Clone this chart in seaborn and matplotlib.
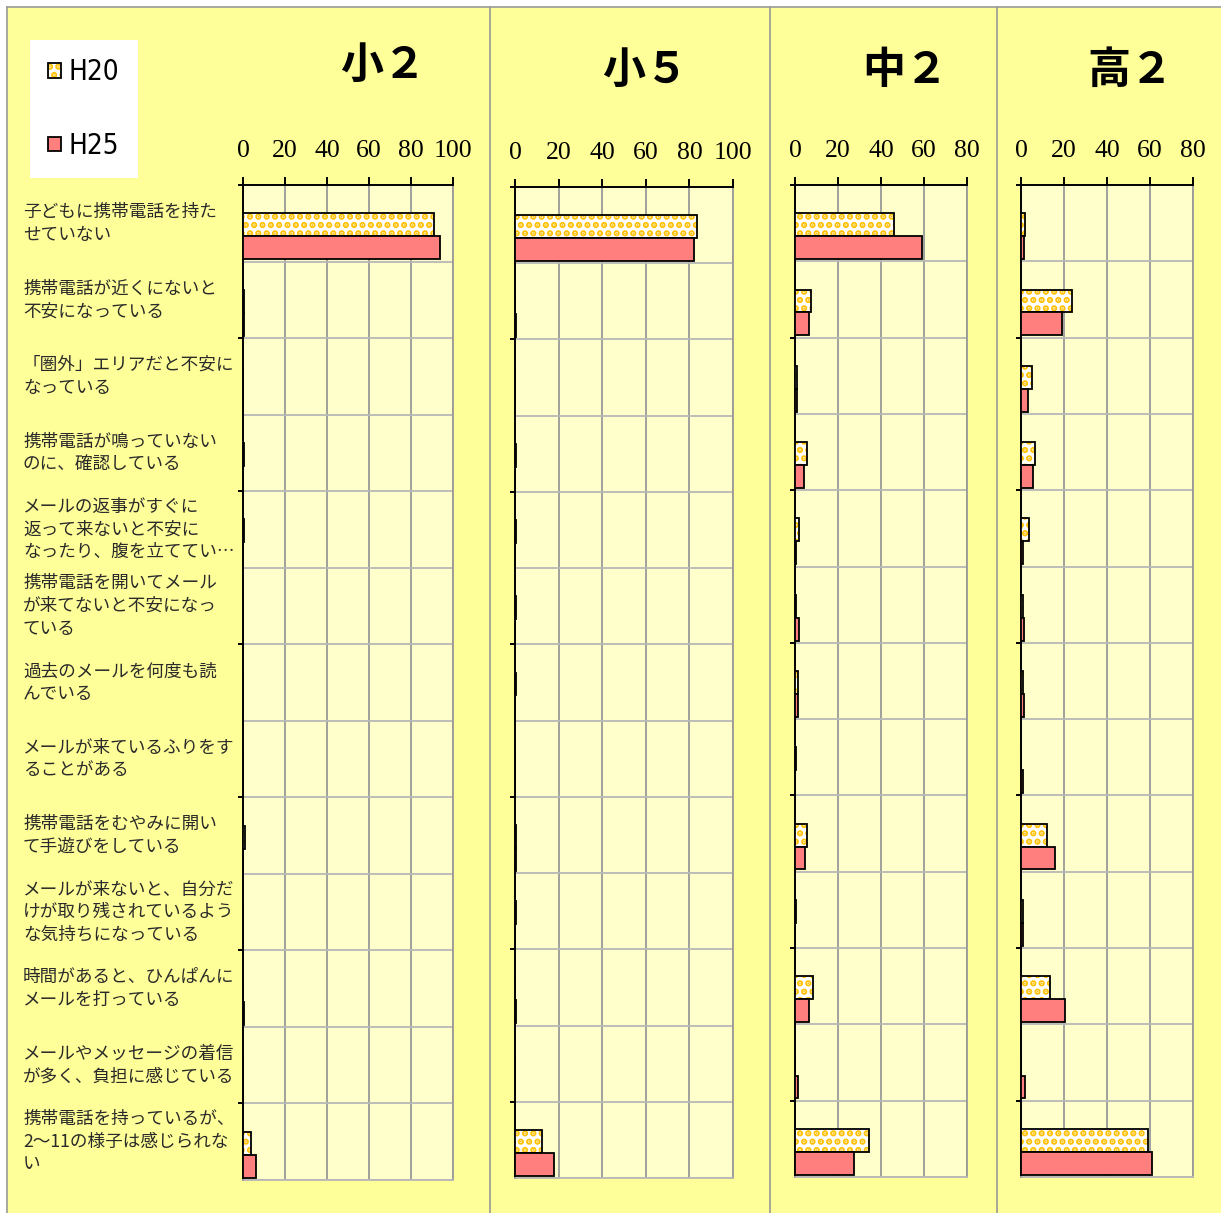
import numpy as np
import pandas as pd
import seaborn as sns
import matplotlib.pyplot as plt
import matplotlib.transforms as mtransforms
from matplotlib.colors import to_rgba
from matplotlib.lines import Line2D
from matplotlib.patches import Patch, Rectangle

# Data
items = [
    "子どもに携帯電話を持た\nせていない",
    "携帯電話が近くにないと\n不安になっている",
    "「圏外」エリアだと不安に\nなっている",
    "携帯電話が鳴っていない\nのに、確認している",
    "メールの返事がすぐに\n返って来ないと不安に\nなったり、腹を立ててい…",
    "携帯電話を開いてメール\nが来てないと不安になっ\nている",
    "過去のメールを何度も読\nんでいる",
    "メールが来ているふりをす\nることがある",
    "携帯電話をむやみに開い\nて手遊びをしている",
    "メールが来ないと、自分だ\nけが取り残されているよう\nな気持ちになっている",
    "時間があると、ひんぱんに\nメールを打っている",
    "メールやメッセージの着信\nが多く、負担に感じている",
    "携帯電話を持っているが、\n2～11の様子は感じられな\nい",
]
years = ["H20", "H25"]
titles = ["小２", "小５", "中２", "高２"]
x_max = [100, 100, 80, 80]

sho2_h20 = [90.9, 0.3, 0, 0.3, 0.3, 0, 0, 0, 1.0, 0, 0, 0, 3.9]
sho2_h25 = [93.8, 0.3, 0, 0, 0, 0, 0, 0, 0, 0, 0.5, 0, 6.3]
sho5_h20 = [83.7, 0, 0, 0.3, 0.3, 0.3, 0.3, 0, 0.5, 0.3, 0, 0, 12.4]
sho5_h25 = [82.0, 0.3, 0, 0, 0, 0, 0, 0, 0.5, 0, 0.6, 0, 17.9]
chu2_h20 = [46.0, 7.3, 1.0, 5.6, 1.7, 0.6, 1.3, 0.3, 5.6, 0.3, 8.6, 0, 34.2]
chu2_h25 = [58.9, 6.5, 1.0, 4.3, 0.6, 1.7, 1.5, 0, 4.7, 0.2, 6.6, 1.5, 27.4]
ko2_h20 = [1.7, 23.6, 5.0, 6.7, 3.9, 1.1, 0.9, 0, 12.1, 0.8, 13.5, 0, 59.0]
ko2_h25 = [1.5, 18.9, 3.2, 5.6, 0.9, 1.3, 1.5, 0.8, 15.6, 0.8, 20.4, 1.9, 61.0]

series = [
    (sho2_h20, sho2_h25),
    (sho5_h20, sho5_h25),
    (chu2_h20, chu2_h25),
    (ko2_h20, ko2_h25),
]

# Layout (pixels of the 1221x1213 picture)
W, H, DPI = 1221, 1213, 100
boxes = [(243, 453, 185, 1180), (515, 733, 187, 1178),
         (795, 967, 185, 1177), (1021, 1193, 185, 1177)]
title_pos = [(383, 65), (645, 70), (905, 70), (1130, 70)]
SHIFT = 0.17  # bars sit low in each category band

OUTER = "#FFFF99"
INNER = "#FFFFCC"
PINK = "#FF7F7F"
DOT = "#FFC000"
GRID_V = "#9A9A9A"
GRID_H = "#B8B8B8"

plt.rcParams["font.family"] = ["Noto Sans CJK JP", "DejaVu Sans"]
plt.rcParams["hatch.linewidth"] = 3.2


def fx(px):
    return px / W


def fy(py):
    return 1 - py / H


def orange_dots(p):
    p.set_hatch("..")
    if hasattr(p, "set_hatchcolor"):
        p.set_hatchcolor(DOT)
    else:
        p._hatch_color = to_rgba(DOT)


fig = plt.figure(figsize=(W / DPI, H / DPI), dpi=DPI, facecolor="white")

# yellow sheet and panel borders
fig.add_artist(Rectangle((fx(7), 0), 1 - fx(7), fy(7), transform=fig.transFigure,
                         facecolor=OUTER, edgecolor="none", zorder=0))
for x0 in [7, 490, 770, 997]:
    fig.add_artist(Line2D([fx(x0), fx(x0)], [0, fy(7)], transform=fig.transFigure,
                          color="#999999", lw=1.2, zorder=1))
fig.add_artist(Line2D([fx(7), 1], [fy(7), fy(7)], transform=fig.transFigure,
                      color="#999999", lw=1.2, zorder=1))

bounds = np.arange(14) - 0.5 - SHIFT

for k, (h20, h25) in enumerate(series):
    l, r, t, b = boxes[k]
    ax = fig.add_axes([fx(l), fy(b), fx(r) - fx(l), fy(t) - fy(b)])
    ax.set_facecolor(INNER)

    df = pd.DataFrame({
        "item": items * 2,
        "year": [years[0]] * len(items) + [years[1]] * len(items),
        "value": h20 + h25,
    })
    sns.barplot(data=df, x="value", y="item", hue="year", hue_order=years,
                order=items, orient="h", palette={"H20": "white", "H25": PINK},
                saturation=1, width=0.6, errorbar=None, edgecolor="black",
                linewidth=1.3, legend=False, ax=ax, zorder=3)
    for p in ax.containers[0]:
        orange_dots(p)

    ax.set_xlim(0, x_max[k])
    ax.set_ylim(bounds[-1], bounds[0])
    ax.set_xticks(np.arange(0, x_max[k] + 1, 20))
    ax.xaxis.tick_top()
    ax.tick_params(axis="x", direction="out", length=5.8, width=1.4, pad=11,
                   labelsize=18.5, labelfontfamily="Liberation Serif")
    ax.set_yticks(bounds[::2], labels=[])
    ax.set_yticks(bounds, minor=True)
    ax.tick_params(axis="y", which="major", direction="out", length=3.6, width=1.4)
    ax.tick_params(axis="y", which="minor", length=0)
    ax.grid(axis="x", which="major", color=GRID_V, lw=1.3)
    ax.grid(axis="y", which="both", color=GRID_H, lw=1.3)
    ax.set_axisbelow(True)
    ax.set_xlabel("")
    ax.set_ylabel("")
    for side in ["top", "left"]:
        ax.spines[side].set_color("black")
        ax.spines[side].set_linewidth(1.4)
    ax.spines["right"].set_color(GRID_V)
    ax.spines["bottom"].set_color(GRID_H)
    ax.spines["right"].set_linewidth(1.3)
    ax.spines["bottom"].set_linewidth(1.3)

    fig.text(fx(title_pos[k][0]), fy(title_pos[k][1]), titles[k], ha="center",
             va="center", fontsize=31, fontweight="bold")

    if k == 0:
        trans = mtransforms.blended_transform_factory(fig.transFigure, ax.transData)
        for i, lab in enumerate(items):
            ax.text(fx(23), i - SHIFT, lab, transform=trans, ha="left",
                    va="center", fontsize=12.7, linespacing=1.33, color="#2a2a2a")

# legend
h_dot = Patch(facecolor="white", edgecolor="black", lw=1.3)
orange_dots(h_dot)
h_pink = Patch(facecolor=PINK, edgecolor="black", lw=1.3)
fig.legend([h_dot, h_pink], years, loc="upper left",
           bbox_to_anchor=(fx(30), fy(40)), frameon=True, fancybox=False,
           facecolor="white", edgecolor="none", framealpha=1,
           prop={"family": "DejaVu Sans", "stretch": "condensed", "size": 20},
           handlelength=0.45, handleheight=0.45, handletextpad=0.3,
           labelspacing=1.65, borderpad=0.65, borderaxespad=0)

fig.savefig("out.png", dpi=DPI)
